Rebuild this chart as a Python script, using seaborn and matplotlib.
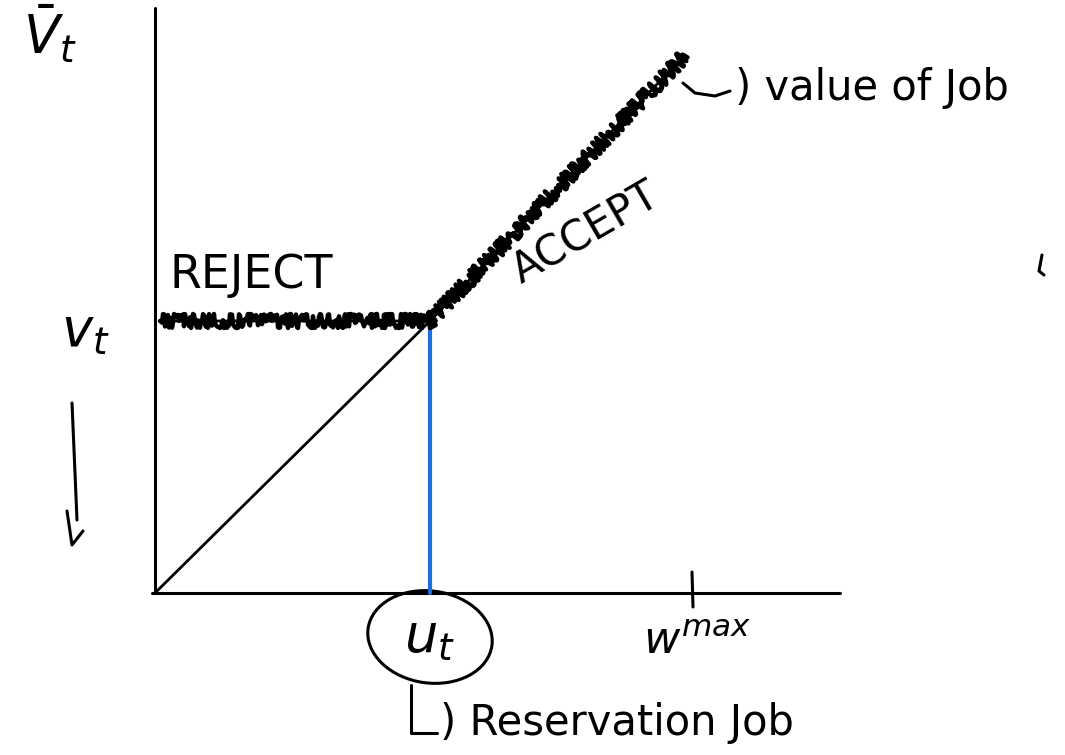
import numpy as np
import pandas as pd
import seaborn as sns
import matplotlib.pyplot as plt
from matplotlib.patches import Ellipse

# sketch values (origin of the axes = 0,0)
u_t = 275          # reservation wage on the x axis
v_t = 272          # value of rejecting
w_max = 537        # top of the wage range
x_axis_end = 685
y_axis_top = 585

# value of job (accept branch) end point
accept_end = (530, 538)

# stray pen strokes in the sketch
left_stroke_x = [-83, -80, -78]
left_stroke_y = [190, 120, 73]
left_hook_x = [-88, -83, -72]
left_hook_y = [82, 48, 62]
right_stroke_x = [887, 884, 889]
right_stroke_y = [338, 322, 318]

sns.set_style("white")
plt.rcParams["font.family"] = ["DejaVu Sans"]
plt.rcParams["text.color"] = "black"

fig = plt.figure(figsize=(10.65, 7.55), dpi=100)
ax = fig.add_axes([0, 0, 1, 1])
ax.set_xlim(-155, 910)
ax.set_ylim(-162, 593)
ax.axis("off")

# axes of the sketch
axes_df = pd.DataFrame({"x": [0, 0, -3, x_axis_end], "y": [y_axis_top, 0, 0, 0], "seg": [0, 0, 1, 1]})
for seg, grp in axes_df.groupby("seg"):
    sns.lineplot(data=grp, x="x", y="y", sort=False, estimator=None, color="black", lw=2.2, ax=ax)

# 45 degree line from origin
diag = pd.DataFrame({"x": [0, u_t], "y": [0, v_t]})
sns.lineplot(data=diag, x="x", y="y", sort=False, estimator=None, color="black", lw=2, ax=ax)

# blue drop line at u_t
blue = pd.DataFrame({"x": [u_t, u_t], "y": [0, v_t]})
sns.lineplot(data=blue, x="x", y="y", sort=False, estimator=None, color="#1f6fe0", lw=3, ax=ax)

# scribbled max(v_t, w) envelope
env = pd.DataFrame({"x": [5, u_t, accept_end[0]], "y": [v_t, v_t, accept_end[1]]})
sns.lineplot(data=env, x="x", y="y", sort=False, estimator=None, color="black", lw=2, ax=ax)
line = sns.lineplot(data=env, x="x", y="y", sort=False, estimator=None, color="black", lw=3.2, ax=ax).lines[-1]
line.set_sketch_params(scale=7, length=4, randomness=20)

# tick at w max
wtick = pd.DataFrame({"x": [w_max, w_max + 1], "y": [21, -14]})
sns.lineplot(data=wtick, x="x", y="y", sort=False, estimator=None, color="black", lw=2.2, ax=ax)

# circle around u_t and arrow to label
ax.add_patch(Ellipse((u_t, -44), 125, 92, angle=-8, fill=False, lw=2.2, color="black"))
resv = pd.DataFrame({"x": [256, 256, 282], "y": [-92, -140, -140]})
sns.lineplot(data=resv, x="x", y="y", sort=False, estimator=None, color="black", lw=2.2, ax=ax)

# hook arrow to "value of Job"
hook = pd.DataFrame({"x": [528, 540, 560, 575], "y": [510, 500, 497, 502]})
sns.lineplot(data=hook, x="x", y="y", sort=False, estimator=None, color="black", lw=2.2, ax=ax)

# stray strokes
for xs, ys in [(left_stroke_x, left_stroke_y), (left_hook_x, left_hook_y), (right_stroke_x, right_stroke_y)]:
    sns.lineplot(x=xs, y=ys, sort=False, estimator=None, color="black", lw=2.2, ax=ax)

# labels
ax.text(-105, 560, r"$\bar{V}_t$", fontsize=38, ha="center", va="center")
ax.text(-70, 262, r"$v_t$", fontsize=38, ha="center", va="center")
ax.text(15, 317, "REJECT", fontsize=33, va="center")
ax.text(350, 360, "ACCEPT", fontsize=30, rotation=30, va="center")
ax.text(580, 505, ") value of Job", fontsize=30, va="center")
ax.text(u_t, -44, r"$u_t$", fontsize=38, ha="center", va="center")
ax.text(w_max + 5, -48, r"$w^{max}$", fontsize=32, ha="center", va="center")
ax.text(285, -130, ") Reservation Job", fontsize=30, va="center")

fig.savefig("out.png", dpi=100)
